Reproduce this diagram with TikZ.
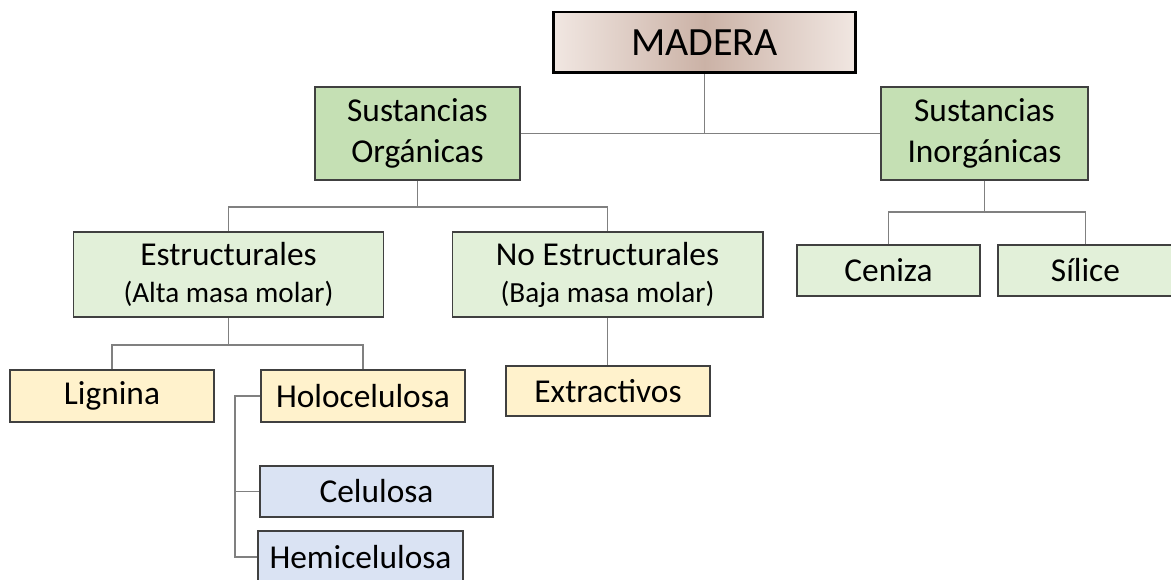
\documentclass[tikz,border=0pt]{standalone}
\usepackage{fontspec}
\setmainfont{Carlito}
\definecolor{madlight}{RGB}{241,231,226}
\definecolor{maddark}{RGB}{203,178,166}
\definecolor{greendark}{RGB}{197,224,180}
\definecolor{greenlight}{RGB}{226,240,217}
\definecolor{yellowsoft}{RGB}{255,242,204}
\definecolor{bluesoft}{RGB}{218,227,243}
\definecolor{edge}{RGB}{64,64,64}
\definecolor{wire}{RGB}{128,128,128}
\usetikzlibrary{positioning}

\tikzset{
  box/.style={draw=edge,line width=0.6pt,inner sep=0pt,align=center,
    font=\fontsize{19}{21}\selectfont},
  tallbox/.style={box,font=\fontsize{19}{23.3}\selectfont},
  wirelink/.style={draw=wire,line width=0.6pt},
}
\newcommand{\smalltxt}{\fontsize{16.6}{20}\selectfont}

\begin{document}
\begin{tikzpicture}[x=0.02cm,y=-0.02cm]
        \useasboundingbox (0,0) rectangle (1171,580);
        % top
        \node[box,draw=black,line width=1.7pt,left color=madlight,right color=madlight,
          middle color=maddark,minimum width=6.06cm,minimum height=1.22cm,
          font=\fontsize{22.8}{26}\selectfont] (madera) at (704.5,42.5) {MADERA};
        \node[tallbox,fill=greendark,minimum width=4.1cm,minimum height=1.86cm]
          (org) at (417.5,133.5) {Sustancias\\Orgánicas};
        \node[tallbox,fill=greendark,minimum width=4.14cm,minimum height=1.86cm]
          (inorg) at (984.5,133.5) {Sustancias\\Inorgánicas};
        % second level
        \node[box,fill=greenlight,minimum width=6.22cm,minimum height=1.7cm]
          (estr) at (228.5,274.5) {Estructurales\\{\smalltxt(Alta masa molar)}};
        \node[box,fill=greenlight,minimum width=6.22cm,minimum height=1.7cm]
          (noestr) at (607.5,274.5) {No Estructurales\\{\smalltxt(Baja masa molar)}};
        \node[box,fill=greenlight,minimum width=3.66cm,minimum height=1.02cm]
          (ceniza) at (888.5,270.5) {Ceniza};
        \node[box,fill=greenlight,minimum width=3.5cm,minimum height=1.02cm]
          (silice) at (1085.5,270.5) {Sílice};
        % third level
        \node[box,fill=yellowsoft,minimum width=4.08cm,minimum height=1.04cm]
          (lignina) at (112,396) {Lignina};
        \node[box,fill=yellowsoft,minimum width=4.08cm,minimum height=1.04cm]
          (holo) at (363,396) {Holocelulosa};
        \node[box,fill=yellowsoft,minimum width=4.08cm,minimum height=1.0cm]
          (extr) at (608,391) {Extractivos};
        \node[box,fill=bluesoft,minimum width=4.66cm,minimum height=1.02cm]
          (celu) at (376.5,491.5) {Celulosa};
        \node[box,fill=bluesoft,minimum width=4.1cm,minimum height=1.04cm]
          (hemi) at (360.5,557) {Hemicelulosa};
        % joints
        \coordinate (madjoint) at (704.5,133.5);
        \coordinate (orgjoint) at (417.5,207);
        \coordinate (inorgjoint) at (984.5,212);
        \coordinate (estrjoint) at (228.5,345);
        \coordinate (holoside) at (235,396);
        % connectors
        \draw[wirelink] (madera.south) -- (madjoint);
        \draw[wirelink] (org.east) -- (madjoint) -- (inorg.west);
        \draw[wirelink] (org.south) -- (orgjoint);
        \draw[wirelink] (estr.north) |- (orgjoint) -| (noestr.north);
        \draw[wirelink] (inorg.south) -- (inorgjoint);
        \draw[wirelink] (ceniza.north) |- (inorgjoint) -| (silice.north);
        \draw[wirelink] (estr.south) -- (estrjoint);
        \draw[wirelink] (lignina.north) |- (estrjoint) -| (holo.north);
        \draw[wirelink] (noestr.south) -- (noestr.south |- extr.north);
        \draw[wirelink] (holo.west) -- (holoside) |- (hemi.west);
        \draw[wirelink] (holoside) |- (celu.west);
      \end{tikzpicture}
\end{document}
